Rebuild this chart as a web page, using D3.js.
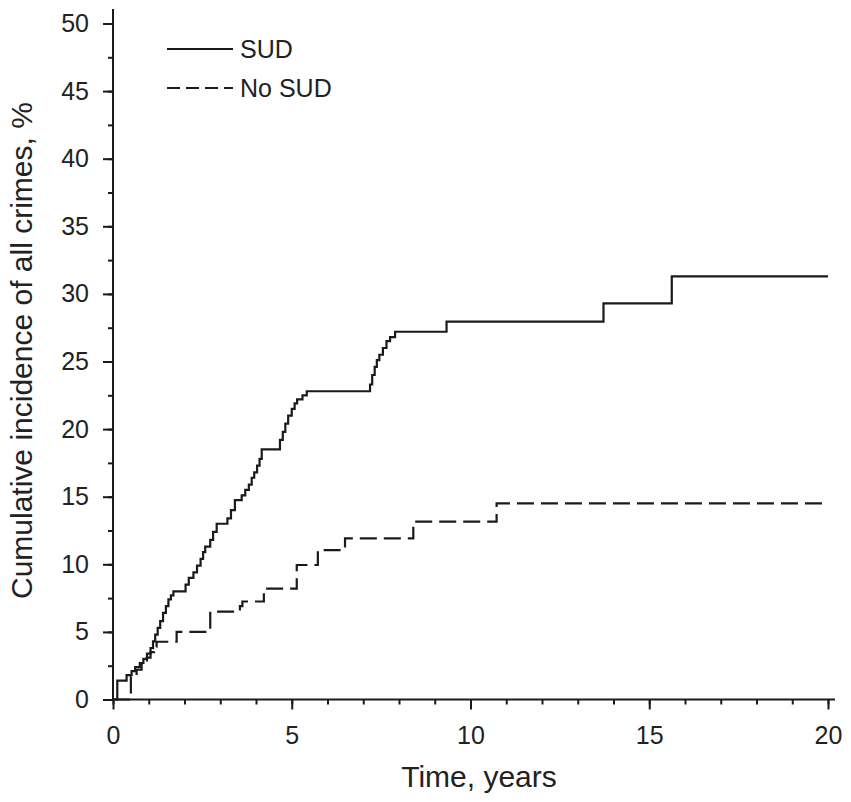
<!DOCTYPE html>
<html>
<head>
<meta charset="utf-8">
<script src="https://cdn.jsdelivr.net/npm/d3@7"></script>
<style>
  body { margin: 0; background: #fff; }
  svg text { font-family: "Liberation Sans", Arial, sans-serif; fill: #222; }
</style>
</head>
<body>
<div id="chart"></div>
<script>
/* DATA */
// step points: [time in years, cumulative incidence %] (value holds until next step)
const sudSteps = [
  [0, 0], [0.12, 1.4], [0.38, 1.8], [0.52, 2.1], [0.62, 2.4], [0.75, 2.7],
  [0.85, 3.0], [0.95, 3.4], [1.05, 3.8], [1.12, 4.3], [1.18, 4.8], [1.25, 5.3],
  [1.32, 5.8], [1.40, 6.4], [1.48, 6.9], [1.55, 7.4], [1.62, 7.7], [1.69, 8.0],
  [2.03, 8.5], [2.12, 9.0], [2.25, 9.4], [2.35, 9.9], [2.45, 10.4], [2.52, 10.9],
  [2.58, 11.3], [2.72, 11.8], [2.80, 12.4], [2.90, 13.0], [3.20, 13.4], [3.30, 14.0],
  [3.41, 14.75], [3.60, 15.1], [3.70, 15.5], [3.80, 15.9], [3.88, 16.4], [3.95, 16.8],
  [4.03, 17.3], [4.10, 17.8], [4.16, 18.5], [4.67, 19.2], [4.75, 19.8], [4.82, 20.4],
  [4.90, 21.0], [5.00, 21.5], [5.08, 21.9], [5.15, 22.2], [5.30, 22.5], [5.42, 22.8],
  [7.19, 23.3], [7.25, 24.0], [7.32, 24.6], [7.38, 25.1], [7.45, 25.5], [7.55, 26.0],
  [7.65, 26.5], [7.75, 26.8], [7.89, 27.2], [9.33, 27.95], [13.72, 29.3], [15.63, 31.3],
  [20, 31.3]
];
const noSudSteps = [
  [0, 0], [0.5, 1.7], [0.66, 2.2], [0.8, 2.6], [0.95, 3.1], [1.05, 3.5], [1.15, 3.9],
  [1.22, 4.27], [1.78, 5.0], [2.72, 6.5], [3.55, 6.9], [3.62, 7.25], [4.22, 8.2],
  [5.14, 9.95], [5.73, 11.05], [6.49, 11.92], [8.4, 13.15], [10.73, 14.5], [20, 14.5]
];
const seriesNames = ["SUD", "No SUD"];
const xMajorTicks = [0, 5, 10, 15, 20];
const xMinorTicks = d3.range(0, 21, 1);
const yMajorTicks = [0, 5, 10, 15, 20, 25, 30, 35, 40, 45, 50];
const yMinorTicks = d3.range(0, 50.1, 2.5);
const xTitle = "Time, years";
const yTitle = "Cumulative incidence of all crimes, %";

/* LAYOUT */
const width = 851, height = 802;
const ink = "#1a1a1a";

const svg = d3.select("#chart").append("svg")
  .attr("width", width)
  .attr("height", height);

const xScale = d3.scaleLinear().domain([0, 20]).range([113, 828]);
const yScale = d3.scaleLinear().domain([0, 50]).range([699.5, 23.5]);

// axis lines (y runs a little above 50, x a little past 20)
svg.append("line")
  .attr("x1", 113).attr("x2", 113)
  .attr("y1", 9).attr("y2", yScale(0))
  .attr("stroke", ink).attr("stroke-width", 2);
svg.append("line")
  .attr("x1", 113).attr("x2", 835)
  .attr("y1", yScale(0)).attr("y2", yScale(0))
  .attr("stroke", ink).attr("stroke-width", 2);

// minor ticks
svg.append("g")
  .attr("transform", `translate(0,${yScale(0)})`)
  .call(d3.axisBottom(xScale).tickValues(xMinorTicks).tickSize(5).tickFormat(""))
  .call(g => g.select(".domain").remove());
svg.append("g")
  .attr("transform", "translate(113,0)")
  .call(d3.axisLeft(yScale).tickValues(yMinorTicks).tickSize(5).tickFormat(""))
  .call(g => g.select(".domain").remove());

// major ticks + labels
const xAxis = svg.append("g")
  .attr("transform", `translate(0,${yScale(0)})`)
  .call(d3.axisBottom(xScale).tickValues(xMajorTicks).tickSize(10).tickPadding(17))
  .call(g => g.select(".domain").remove());
const yAxis = svg.append("g")
  .attr("transform", "translate(113,0)")
  .call(d3.axisLeft(yScale).tickValues(yMajorTicks).tickSize(10).tickPadding(14))
  .call(g => g.select(".domain").remove());

svg.selectAll(".tick line").attr("stroke", ink).attr("stroke-width", 2);
svg.selectAll(".tick text")
  .attr("font-size", 25)
  .attr("font-family", "Liberation Sans, Arial, sans-serif")
  .attr("fill", "#222");

// axis titles
svg.append("text")
  .attr("x", 479)
  .attr("y", 787)
  .attr("text-anchor", "middle")
  .attr("font-size", 30)
  .text(xTitle);

svg.append("text")
  .attr("transform", "translate(32,599) rotate(-90)")
  .attr("text-anchor", "start")
  .attr("font-size", 30)
  .text(yTitle);

// curves
const line = d3.line()
  .x(d => xScale(d[0]))
  .y(d => yScale(d[1]))
  .curve(d3.curveStepAfter);

svg.append("path")
  .datum(noSudSteps)
  .attr("fill", "none")
  .attr("stroke", ink)
  .attr("stroke-width", 2.2)
  .attr("stroke-dasharray", "17,7")
  .attr("d", line);

svg.append("path")
  .datum(sudSteps)
  .attr("fill", "none")
  .attr("stroke", ink)
  .attr("stroke-width", 2.2)
  .attr("d", line);

// legend
const legend = svg.append("g");
seriesNames.forEach((name, i) => {
  const ly = 49 + i * 39;
  legend.append("line")
    .attr("x1", 167).attr("x2", 233)
    .attr("y1", ly).attr("y2", ly)
    .attr("stroke", ink)
    .attr("stroke-width", 2)
    .attr("stroke-dasharray", i === 1 ? "13,6" : null);
  legend.append("text")
    .attr("x", 240)
    .attr("y", ly + 9)
    .attr("font-size", 25)
    .text(name);
});
</script>
</body>
</html>
